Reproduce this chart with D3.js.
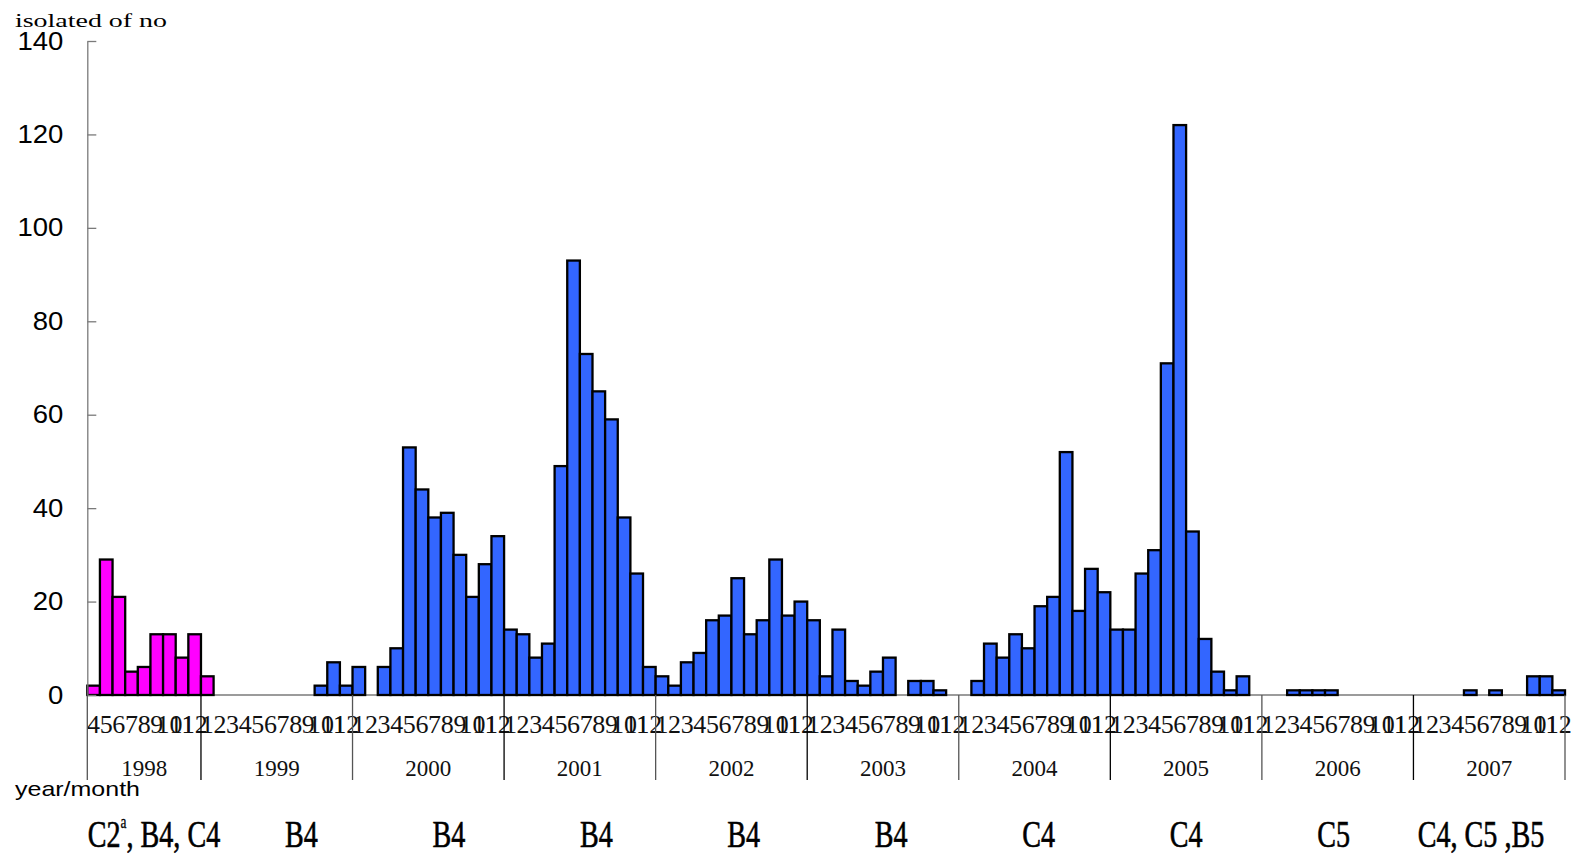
<!DOCTYPE html>
<html>
<head>
<meta charset="utf-8">
<script src="https://d3js.org/d3.v7.min.js"></script>
<style>
	body { margin: 0; background: #fff; }
	.axis text { font-family: "Liberation Sans", Arial, sans-serif; font-size: 25px; fill: #000; }
	.axis path, .axis line { stroke: #7a7a7a; stroke-width: 1.3px; }
	.month { font-family: "Liberation Serif", "Times New Roman", serif; font-size: 26px; fill: #111; }
	.year { font-family: "Liberation Serif", "Times New Roman", serif; font-size: 23px; fill: #111; }
	.sero { font-family: "Liberation Serif", "Times New Roman", serif; font-size: 38px; fill: #000; stroke: #000; stroke-width: 0.6px; }
</style>
</head>
<body>
<script>
	// monthly isolate counts, April 1998 - December 2007
	var years = [1998, 1999, 2000, 2001, 2002, 2003, 2004, 2005, 2006, 2007];
	var firstMonth1998 = 4;
	var counts1998 = [2, 29, 21, 5, 6, 13, 13, 8, 13];
	var counts1999 = [4, 0, 0, 0, 0, 0, 0, 0, 0, 2, 7, 2];
	var counts2000 = [6, 0, 6, 10, 53, 44, 38, 39, 30, 21, 28, 34];
	var counts2001 = [14, 13, 8, 11, 49, 93, 73, 65, 59, 38, 26, 6];
	var counts2002 = [4, 2, 7, 9, 16, 17, 25, 13, 16, 29, 17, 20];
	var counts2003 = [16, 4, 14, 3, 2, 5, 8, 0, 3, 3, 1, 0];
	var counts2004 = [0, 3, 11, 8, 13, 10, 19, 21, 52, 18, 27, 22];
	var counts2005 = [14, 14, 26, 31, 71, 122, 35, 12, 5, 1, 4, 0];
	var counts2006 = [0, 0, 1, 1, 1, 1, 0, 0, 0, 0, 0, 0];
	var counts2007 = [0, 0, 0, 0, 1, 0, 1, 0, 0, 4, 4, 1];
	// last month drawn in the C2 colour
	var c2LastMonth = "1999-1";
	var yTicks = [0, 20, 40, 60, 80, 100, 120, 140];
	var serotypes = ["C2", "B4", "B4", "B4", "B4", "B4", "C4", "C4", "C5", "C4, C5 ,B5"];

	var width = 1572;
	var height = 856;
	var margin = { top: 41, right: 7, bottom: 161, left: 87 };

	var allCounts = [counts1998, counts1999, counts2000, counts2001, counts2002,
		counts2003, counts2004, counts2005, counts2006, counts2007];

	// flatten into month records
	var data = [];
	years.forEach(function(yr, i) {
		var start = (i == 0) ? firstMonth1998 : 1;
		allCounts[i].forEach(function(v, j) {
			data.push({ year: yr, month: start + j, key: yr + "-" + (start + j), value: v });
		});
	});
	var c2Index = data.findIndex(function(d) { return d.key == c2LastMonth; });

	var x = d3.scaleBand()
		.domain(data.map(function(d) { return d.key; }))
		.range([margin.left + 0.3, width - margin.right])
		.padding(0);
	var y = d3.scaleLinear()
		.domain([0, 140])
		.range([height - margin.bottom, margin.top]);

	var svg = d3.select("body")
		.append("svg")
		.attr("width", width)
		.attr("height", height);

	svg.append("rect").attr("width", width).attr("height", height).attr("fill", "#fff");

	// baseline
	svg.append("line")
		.attr("x1", x.range()[0]).attr("x2", x.range()[1])
		.attr("y1", y(0)).attr("y2", y(0))
		.attr("stroke", "#7a7a7a").attr("stroke-width", 1.5);

	// bars
	svg.selectAll("rect.bar")
		.data(data.filter(function(d) { return d.value > 0; }))
		.enter()
		.append("rect")
		.attr("class", "bar")
		.attr("x", function(d) { return x(d.key); })
		.attr("y", function(d) { return y(d.value); })
		.attr("width", x.bandwidth())
		.attr("height", function(d) { return y(0) - y(d.value); })
		.attr("fill", function(d) { return data.indexOf(d) <= c2Index ? "#ff00ff" : "#3366ff"; })
		.attr("stroke", "#000")
		.attr("stroke-width", 2.3);

	// y axis, ticks pointing inwards
	var yAxis = d3.axisLeft(y)
		.tickValues(yTicks)
		.tickSize(-9)
		.tickSizeOuter(0)
		.tickPadding(24);
	var gy = svg.append("g")
		.attr("class", "axis")
		.attr("transform", "translate(" + [margin.left + 0.3, 0] + ")")
		.call(yAxis);
	gy.selectAll("text")
		.attr("x", -24 / 1.1)
		.attr("transform", "scale(1.1,1)");

	// month labels
	svg.selectAll("text.month")
		.data(data)
		.enter()
		.append("text")
		.attr("class", "month")
		.attr("x", function(d) { return x(d.key) + x.bandwidth() / 2; })
		.attr("y", y(0) + 38)
		.attr("text-anchor", "middle")
		.text(function(d) { return d.month; });

	// year separators and labels
	var yearStart = function(yr) { return x(data.find(function(d) { return d.year == yr; }).key); };
	var yearEnd = function(yr) {
		var last = data.filter(function(d) { return d.year == yr; }).pop();
		return x(last.key) + x.bandwidth();
	};
	var bounds = years.map(yearStart).concat([x.range()[1]]);
	svg.selectAll("line.sep")
		.data(bounds)
		.enter()
		.append("line")
		.attr("x1", function(d) { return d; })
		.attr("x2", function(d) { return d; })
		.attr("y1", y(0))
		.attr("y2", y(0) + 85)
		.attr("stroke", function(d, i) { return i % 2 ? "#000" : "#555"; })
		.attr("stroke-width", 1.3);

	svg.selectAll("text.year")
		.data(years)
		.enter()
		.append("text")
		.attr("class", "year")
		.attr("x", function(d) { return (yearStart(d) + yearEnd(d)) / 2; })
		.attr("y", y(0) + 81)
		.attr("text-anchor", "middle")
		.text(function(d) { return d; });

	// axis titles
	svg.append("text")
		.attr("x", 15).attr("y", 27)
		.attr("textLength", 152).attr("lengthAdjust", "spacingAndGlyphs")
		.style("font-family", "Liberation Serif, serif")
		.style("font-size", "18px")
		.text("isolated of  no");
	svg.append("text")
		.attr("x", 15).attr("y", 796)
		.attr("textLength", 125).attr("lengthAdjust", "spacingAndGlyphs")
		.style("font-family", "Liberation Sans, Arial, sans-serif")
		.style("font-size", "21px")
		.text("year/month");

	// serotype row under each year
	var seroX = d3.scalePoint()
		.domain(years)
		.range([margin.left + 67, width - margin.right - 84]);
	var sero = svg.selectAll("g.sero")
		.data(years)
		.enter()
		.append("g")
		.attr("transform", function(d) { return "translate(" + [seroX(d), 847] + ") scale(0.74,1)"; })
		.append("text")
		.attr("class", "sero")
		.attr("text-anchor", "middle");
	sero.each(function(d, i) {
		var t = d3.select(this);
		if (i == 0) {
			t.append("tspan").text("C2");
			t.append("tspan").attr("dy", -19).style("font-size", "18px").style("stroke-width", "0.3px").text("a");
			t.append("tspan").attr("dy", 19).text(", B4, C4");
		} else {
			t.text(serotypes[i]);
		}
	});
</script>
</body>
</html>
